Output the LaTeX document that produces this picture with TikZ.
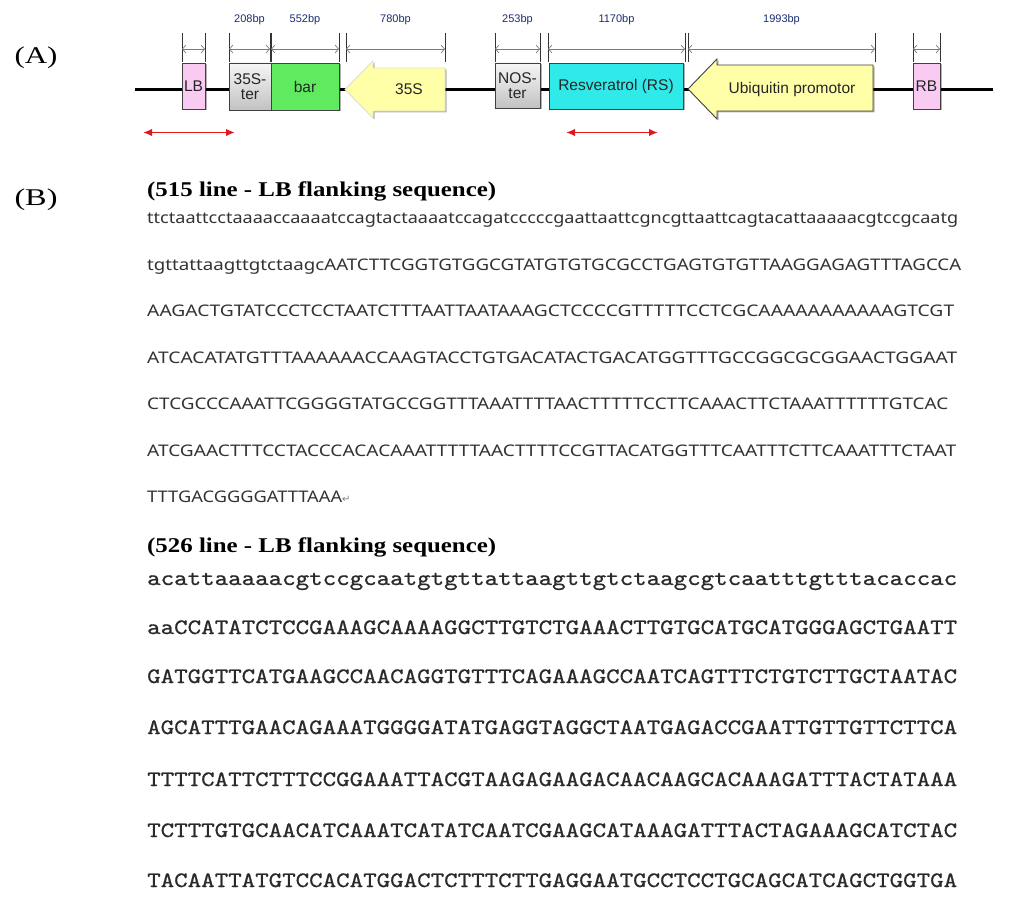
\documentclass[tikz,border=0pt]{standalone}
\usepackage{fontspec}
\setmainfont{Liberation Serif}
\newfontfamily\arialf{Liberation Sans}
\newfontfamily\seqsans{Noto Sans}
\newfontfamily\courierf{lmmono10-regular.otf}[FakeBold=0.7]
\newfontfamily\djv{DejaVu Sans}
\usepackage{graphicx}
\usetikzlibrary{arrows.meta,shadows}
\definecolor{lbpink}{HTML}{F9CBF3}
\definecolor{bargreen}{HTML}{5FEA5F}
\definecolor{rscyan}{HTML}{30EAEA}
\definecolor{promyellow}{HTML}{FFFFA8}
\definecolor{tergrayT}{HTML}{F6F6F6}
\definecolor{tergrayB}{HTML}{C2C2C2}
\definecolor{bpnavy}{HTML}{1C2E72}
\definecolor{dimgray}{HTML}{7A7A7A}
\definecolor{fragred}{HTML}{E3171B}
\definecolor{seqgray}{HTML}{333333}
\definecolor{monogray}{HTML}{2A2A2A}
\newsavebox\fitbox
\newlength\fitlen
\newcommand\fitto[2]{\sbox\fitbox{#2}\setlength\fitlen{\wd\fitbox}\pgfmathsetmacro\fitsc{#1/\fitlen}\scalebox{\fitsc}[1]{\usebox\fitbox}}
\tikzset{
  feature/.style={draw=black!75, line width=0.9pt, inner sep=0pt,
    font=\arialf\fontsize{15.5}{16}\selectfont, text=black!85, align=center,
    drop shadow={shadow xshift=1.5pt, shadow yshift=-1.5pt, opacity=0.3, fill=black}},
  lbbox/.style={feature, fill=lbpink},
  terbox/.style={feature, top color=tergrayT, bottom color=tergrayB},
  barbox/.style={feature, fill=bargreen},
  rsbox/.style={feature, fill=rscyan},
  promarrow/.style={fill=promyellow, line width=0.9pt,
    drop shadow={shadow xshift=1.5pt, shadow yshift=-1.5pt, opacity=0.3, fill=black}},
  featlabel/.style={inner sep=0pt, font=\arialf\fontsize{15.5}{16}\selectfont, text=black!85},
  backbone/.style={draw=black, line width=2.5pt},
  tick/.style={draw=black!80, line width=0.7pt},
  dimarrow/.style={draw=dimgray, line width=0.7pt,
    arrows={Straight Barb[length=3.5pt,width=8pt]-Straight Barb[length=3.5pt,width=8pt]}},
  bplabel/.style={inner sep=0pt, font=\arialf\fontsize{11}{12}\selectfont, text=bpnavy},
  fragarrow/.style={draw=fragred, line width=1.8pt,
    arrows={Latex[length=9pt,width=7.5pt]-Latex[length=9pt,width=7.5pt]}},
  panel/.style={inner sep=0pt, font=\fontsize{24}{26}\selectfont},
  seqtitle/.style={inner sep=0pt, anchor=west, font=\bfseries\fontsize{21}{24}\selectfont},
  seqline/.style={inner sep=0pt, anchor=base west, font=\seqsans\fontsize{16}{18}\selectfont, text=seqgray},
  monoline/.style={inner sep=0pt, anchor=base west, font=\courierf\fontsize{22}{24}\selectfont, text=monogray},
}
\begin{document}
\begin{tikzpicture}[x=1pt,y=-1pt]
\useasboundingbox (0,0) rectangle (1022,904);
\fill[white] (0,0) rectangle (1022,904);

% panel labels
\node[panel] (lA) at (36,58) {\fitto{43}{(A)}};
\node[panel] (lB) at (36,200) {\fitto{43}{(B)}};

% backbone
\coordinate (bbL) at (135,89.5);
\coordinate (bbR) at (993,89.5);
\draw[backbone] (bbL) -- (bbR);

% features
\node[lbbox, minimum width=23pt, minimum height=46pt] (LB) at (193.5,86) {LB};
\node[terbox, minimum width=42pt, minimum height=47pt] (ter35) at (250,86.5) {35S-\\[-1pt]ter};
\node[barbox, minimum width=68pt, minimum height=47pt] (bar) at (305,86.5) {bar};
\filldraw[promarrow, draw=promyellow!70!black!40] (345,89.5) -- (373,61) -- (373,68) -- (445,68) -- (445,111) -- (373,111) -- (373,118) -- cycle;
\node[featlabel] (p35S) at (409,89.5) {35S};
\node[terbox, minimum width=45pt, minimum height=45pt] (nos) at (517.5,85.5) {NOS-\\[-1pt]ter};
\node[rsbox, minimum width=134pt, minimum height=46pt] (RS) at (616,86) {Resveratrol (RS)};
\filldraw[promarrow, draw=black!75] (688,89) -- (717,59) -- (717,65) -- (873,65) -- (873,111) -- (717,111) -- (717,119) -- cycle;
\node[featlabel] (ubi) at (792,89) {Ubiquitin promotor};
\node[lbbox, minimum width=27pt, minimum height=46pt] (RB) at (926.5,86) {RB};

% dimension lines
\foreach \a/\b [count=\i] in {182/205, 229/270, 271/339, 346/445, 495/540, 548/685, 688/875, 913/940}{
  \coordinate (dl\i) at (\a,49);
  \coordinate (dr\i) at (\b,49);
  \draw[tick] (\a,33) -- (\a,62);
  \draw[tick] (\b,33) -- (\b,62);
  \draw[dimarrow] (dl\i) -- (dr\i);
}
\node[bplabel] (bp2) at (249.5,20) {208bp};
\node[bplabel] (bp3) at (305,20) {552bp};
\node[bplabel] (bp4) at (395.5,20) {780bp};
\node[bplabel] (bp5) at (517.5,20) {253bp};
\node[bplabel] (bp6) at (616.5,20) {1170bp};
\node[bplabel] (bp7) at (781.5,20) {1993bp};

% red fragments
\coordinate (f1a) at (143,132.5);
\coordinate (f1b) at (235,132.5);
\coordinate (f2a) at (566,132.5);
\coordinate (f2b) at (658,132.5);
\draw[fragarrow] (f1a) -- (f1b);
\draw[fragarrow] (f2a) -- (f2b);

% (B) 515 line
\node[seqtitle] (t515) at (147,191) {\fitto{349}{(515 line - LB flanking sequence)}};
\node[seqline] (a1) at (147,223.7) {\fitto{811}{ttctaattcctaaaaccaaaatccagtactaaaatccagatcccccgaattaattcgncgttaattcagtacattaaaaacgtccgcaatg}};
\node[seqline] (a2) at (147,270.2) {\fitto{814}{tgttattaagttgtctaagcAATCTTCGGTGTGGCGTATGTGTGCGCCTGAGTGTGTTAAGGAGAGTTTAGCCA}};
\node[seqline] (a3) at (147,316.7) {\fitto{807}{AAGACTGTATCCCTCCTAATCTTTAATTAATAAAGCTCCCCGTTTTTCCTCGCAAAAAAAAAAAGTCGT}};
\node[seqline] (a4) at (147,363.2) {\fitto{810}{ATCACATATGTTTAAAAAACCAAGTACCTGTGACATACTGACATGGTTTGCCGGCGCGGAACTGGAAT}};
\node[seqline] (a5) at (147,409.7) {\fitto{801}{CTCGCCCAAATTCGGGGTATGCCGGTTTAAATTTTAACTTTTTCCTTCAAACTTCTAAATTTTTTGTCAC}};
\node[seqline] (a6) at (147,456.2) {\fitto{809}{ATCGAACTTTCCTACCCACACAAATTTTTAACTTTTCCGTTACATGGTTTCAATTTCTTCAAATTTCTAAT}};
\node[seqline] (a7) at (147,502.7) {\fitto{195}{TTTGACGGGGATTTAAA}{\djv\color{gray}\fontsize{10}{12}\selectfont ↵}};

% (B) 526 line
\node[seqtitle] (t526) at (147,547) {\fitto{349}{(526 line - LB flanking sequence)}};
\node[monoline] (b1) at (147,585) {\fitto{810}{acattaaaaacgtccgcaatgtgttattaagttgtctaagcgtcaatttgtttacaccac}};
\node[monoline] (b2) at (147,634) {\fitto{810}{aaCCATATCTCCGAAAGCAAAAGGCTTGTCTGAAACTTGTGCATGCATGGGAGCTGAATT}};
\node[monoline] (b3) at (147,683) {\fitto{810}{GATGGTTCATGAAGCCAACAGGTGTTTCAGAAAGCCAATCAGTTTCTGTCTTGCTAATAC}};
\node[monoline] (b4) at (147,734) {\fitto{810}{AGCATTTGAACAGAAATGGGGATATGAGGTAGGCTAATGAGACCGAATTGTTGTTCTTCA}};
\node[monoline] (b5) at (147,786) {\fitto{810}{TTTTCATTCTTTCCGGAAATTACGTAAGAGAAGACAACAAGCACAAAGATTTACTATAAA}};
\node[monoline] (b6) at (147,837) {\fitto{810}{TCTTTGTGCAACATCAAATCATATCAATCGAAGCATAAAGATTTACTAGAAAGCATCTAC}};
\node[monoline] (b7) at (147,887) {\fitto{810}{TACAATTATGTCCACATGGACTCTTTCTTGAGGAATGCCTCCTGCAGCATCAGCTGGTGA}};
\end{tikzpicture}
\end{document}
